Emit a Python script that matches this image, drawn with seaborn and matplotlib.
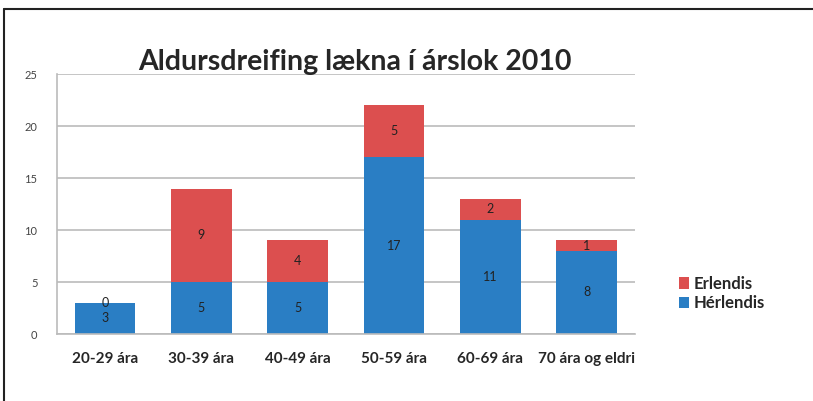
import seaborn as sns
import matplotlib.pyplot as plt
from matplotlib.lines import Line2D
import pandas as pd

# Data
aldur = ['20-29 ára', '30-39 ára', '40-49 ára', '50-59 ára', '60-69 ára', '70 ára og eldri']
herlendis = [3, 5, 5, 17, 11, 8]
erlendis = [0, 9, 4, 5, 2, 1]
uppruni = ['Erlendis', 'Hérlendis']
litir = {'Erlendis': '#DC4F4F', 'Hérlendis': '#2A7EC4'}

df = pd.DataFrame({
    'Aldur': aldur * 2,
    'Uppruni': ['Hérlendis'] * len(aldur) + ['Erlendis'] * len(aldur),
    'Fjöldi': herlendis + erlendis,
})
df['Aldur'] = pd.Categorical(df['Aldur'], categories=aldur, ordered=True)

sns.set_style("white")
plt.rcParams['font.family'] = ['Lato', 'DejaVu Sans']

fig = plt.figure(figsize=(8.13, 4.01), dpi=100)
ax = fig.add_axes([0.070, 0.167, 0.711, 0.648])

# stacked bars: first hue level (Erlendis) ends up on top
sns.histplot(
    data=df, x='Aldur', hue='Uppruni', weights='Fjöldi',
    hue_order=uppruni, palette=litir, multiple='stack',
    discrete=True, shrink=0.63, alpha=1, linewidth=0, ax=ax,
)

# value labels centred in each segment
for cont in ax.containers:
    ax.bar_label(cont, labels=[f'{int(round(b.get_height()))}' for b in cont],
                 label_type='center', fontsize=9, color='#222222')

ax.set_ylim(0, 25)
ax.set_xlim(-0.5, 5.5)
ax.set_yticks(range(0, 26, 5))
ax.yaxis.grid(True, color='#BBBBBB', linewidth=1.2)
ax.set_axisbelow(True)
ax.set_xlabel('')
ax.set_ylabel('')
ax.tick_params(axis='x', length=0, pad=13, labelsize=11)
ax.tick_params(axis='y', length=0, pad=14, labelsize=8, labelcolor='#444444')
for lab in ax.get_xticklabels():
    lab.set_fontweight('bold')
for s in ['top', 'right']:
    ax.spines[s].set_visible(False)
for s in ['left', 'bottom']:
    ax.spines[s].set_color('#BBBBBB')
    ax.spines[s].set_linewidth(1.2)

fig.text(0.437, 0.845, 'Aldursdreifing lækna í árslok 2010',
         ha='center', va='center', fontsize=20.5, fontweight='bold')

sns.move_legend(ax, loc='center left', bbox_to_anchor=(1.05, 0.155),
                frameon=False, title=None, handlelength=0.6, handleheight=0.7,
                handletextpad=0.3, labelspacing=0.2, prop={'size': 12, 'weight': 'bold'})

# frame lines of the original picture
fig.add_artist(Line2D([0.005, 1.0], [0.978, 0.978], color='#222222', linewidth=1.5))
fig.add_artist(Line2D([0.005, 0.005], [0.0, 0.978], color='#222222', linewidth=1.5))

fig.savefig('out.png', dpi=100, facecolor='white')
plt.close()
